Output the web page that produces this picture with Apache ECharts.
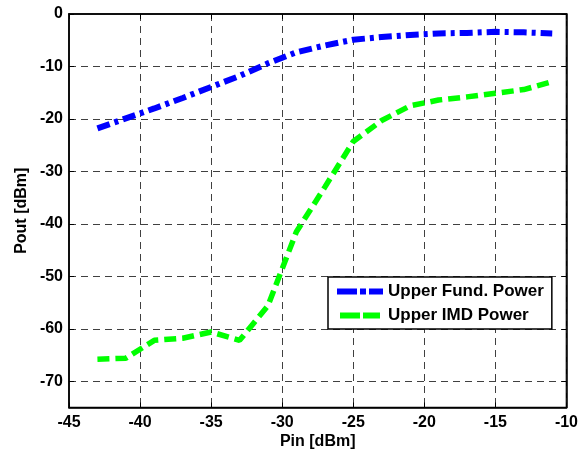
<!DOCTYPE html>
<html>
<head>
<meta charset="utf-8">
<script src="https://cdn.jsdelivr.net/npm/echarts@6/dist/echarts.min.js"></script>
<style>html,body{margin:0;padding:0;background:#fff}#c{width:581px;height:457px}</style>
</head>
<body>
<div id="c"></div>
<script>
const pin = [-43, -41, -39, -37, -35, -33, -31, -29, -27, -25, -23, -21, -19, -17, -15, -13, -11];
const fundPower = [-21.8, -19.9, -18.0, -16.0, -13.9, -11.8, -9.4, -7.3, -6.0, -4.9, -4.4, -4.0, -3.7, -3.6, -3.4, -3.5, -3.7];
const imdPower = [-65.8, -65.6, -62.2, -61.8, -60.6, -62.2, -55.6, -41.5, -33.0, -24.3, -20.3, -17.5, -16.4, -15.8, -15.1, -14.4, -12.9];
const xTicks = [-45, -40, -35, -30, -25, -20, -15, -10];
const yTicks = [-70, -60, -50, -40, -30, -20, -10, 0];
const seriesNames = ['Upper Fund. Power', 'Upper IMD Power'];

const font = 'Liberation Sans, Arial, sans-serif';
const chart = echarts.init(document.getElementById('c'), null, {renderer: 'canvas'});
const gridStyle = {show: true, lineStyle: {color: '#404040', width: 1, type: [7, 5]}};
const labelFont = {fontFamily: font, fontWeight: 'bold', fontSize: 16, color: '#000'};
chart.setOption({
  animation: false,
  backgroundColor: '#fff',
  grid: {left: 69, right: 13, top: 14, bottom: 49.5, show: true, borderColor: '#000', borderWidth: 1.5, backgroundColor: '#fff'},
  xAxis: [{
    type: 'value', min: -45, max: -10, interval: 5,
    name: 'Pin [dBm]', nameLocation: 'middle', nameGap: 26, nameMoveOverlap: false,
    nameTextStyle: labelFont,
    axisLine: {show: true, onZero: false, lineStyle: {color: '#000', width: 1.5}},
    axisTick: {show: true, inside: true, length: 5, lineStyle: {color: '#000'}},
    axisLabel: Object.assign({margin: 7, formatter: v => xTicks.includes(v) ? String(v) : ''}, labelFont),
    splitLine: gridStyle
  }, {
    type: 'value', min: -45, max: -10, interval: 5, position: 'top',
    axisLine: {show: true, onZero: false, lineStyle: {color: '#000', width: 1.5}},
    axisTick: {show: true, inside: true, length: 5, lineStyle: {color: '#000'}},
    axisLabel: {show: false}, splitLine: {show: false}
  }],
  yAxis: [{
    type: 'value', min: -75, max: 0,
    name: 'Pout [dBm]', nameLocation: 'middle', nameGap: 39, nameMoveOverlap: false,
    nameTextStyle: labelFont,
    axisLine: {show: true, onZero: false, lineStyle: {color: '#000', width: 1.5}},
    axisTick: {show: true, inside: true, length: 5, lineStyle: {color: '#000'}, customValues: yTicks},
    axisLabel: Object.assign({margin: 6, customValues: yTicks}, labelFont),
    splitLine: Object.assign({customValues: yTicks}, gridStyle)
  }, {
    type: 'value', min: -75, max: 0, position: 'right',
    axisLine: {show: true, onZero: false, lineStyle: {color: '#000', width: 1.5}},
    axisTick: {show: true, inside: true, length: 5, lineStyle: {color: '#000'}, customValues: yTicks},
    axisLabel: {show: false}, splitLine: {show: false}
  }],
  legend: {
    orient: 'vertical', left: 328, top: 277,
    backgroundColor: '#fff', borderColor: '#000', borderWidth: 1.5,
    padding: [6, 8, 5, 9], itemGap: 7, itemWidth: 46, itemHeight: 6,
    textStyle: {fontFamily: font, fontWeight: 'bold', fontSize: 17, color: '#000'},
    data: [
      {name: seriesNames[0], icon: 'path://M0,0H20V6H0Z M23,0H29V6H23Z M32,0H46V6H32Z', itemStyle: {color: '#0000ff'}},
      {name: seriesNames[1], icon: 'path://M0,0H20V6H0Z M23,0H40V6H23Z', itemStyle: {color: '#00ff00'}}
    ]
  },
  series: [{
    name: seriesNames[0], type: 'line', showSymbol: false, symbol: 'none',
    data: pin.map((x, i) => [x, fundPower[i]]),
    lineStyle: {color: '#0000ff', width: 6, type: [13, 5, 4, 5]},
    itemStyle: {color: '#0000ff'}
  }, {
    name: seriesNames[1], type: 'line', showSymbol: false, symbol: 'none',
    data: pin.map((x, i) => [x, imdPower[i]]),
    lineStyle: {color: '#00ff00', width: 5.5, type: [12, 6]},
    itemStyle: {color: '#00ff00'}
  }]
});
</script>
</body>
</html>
